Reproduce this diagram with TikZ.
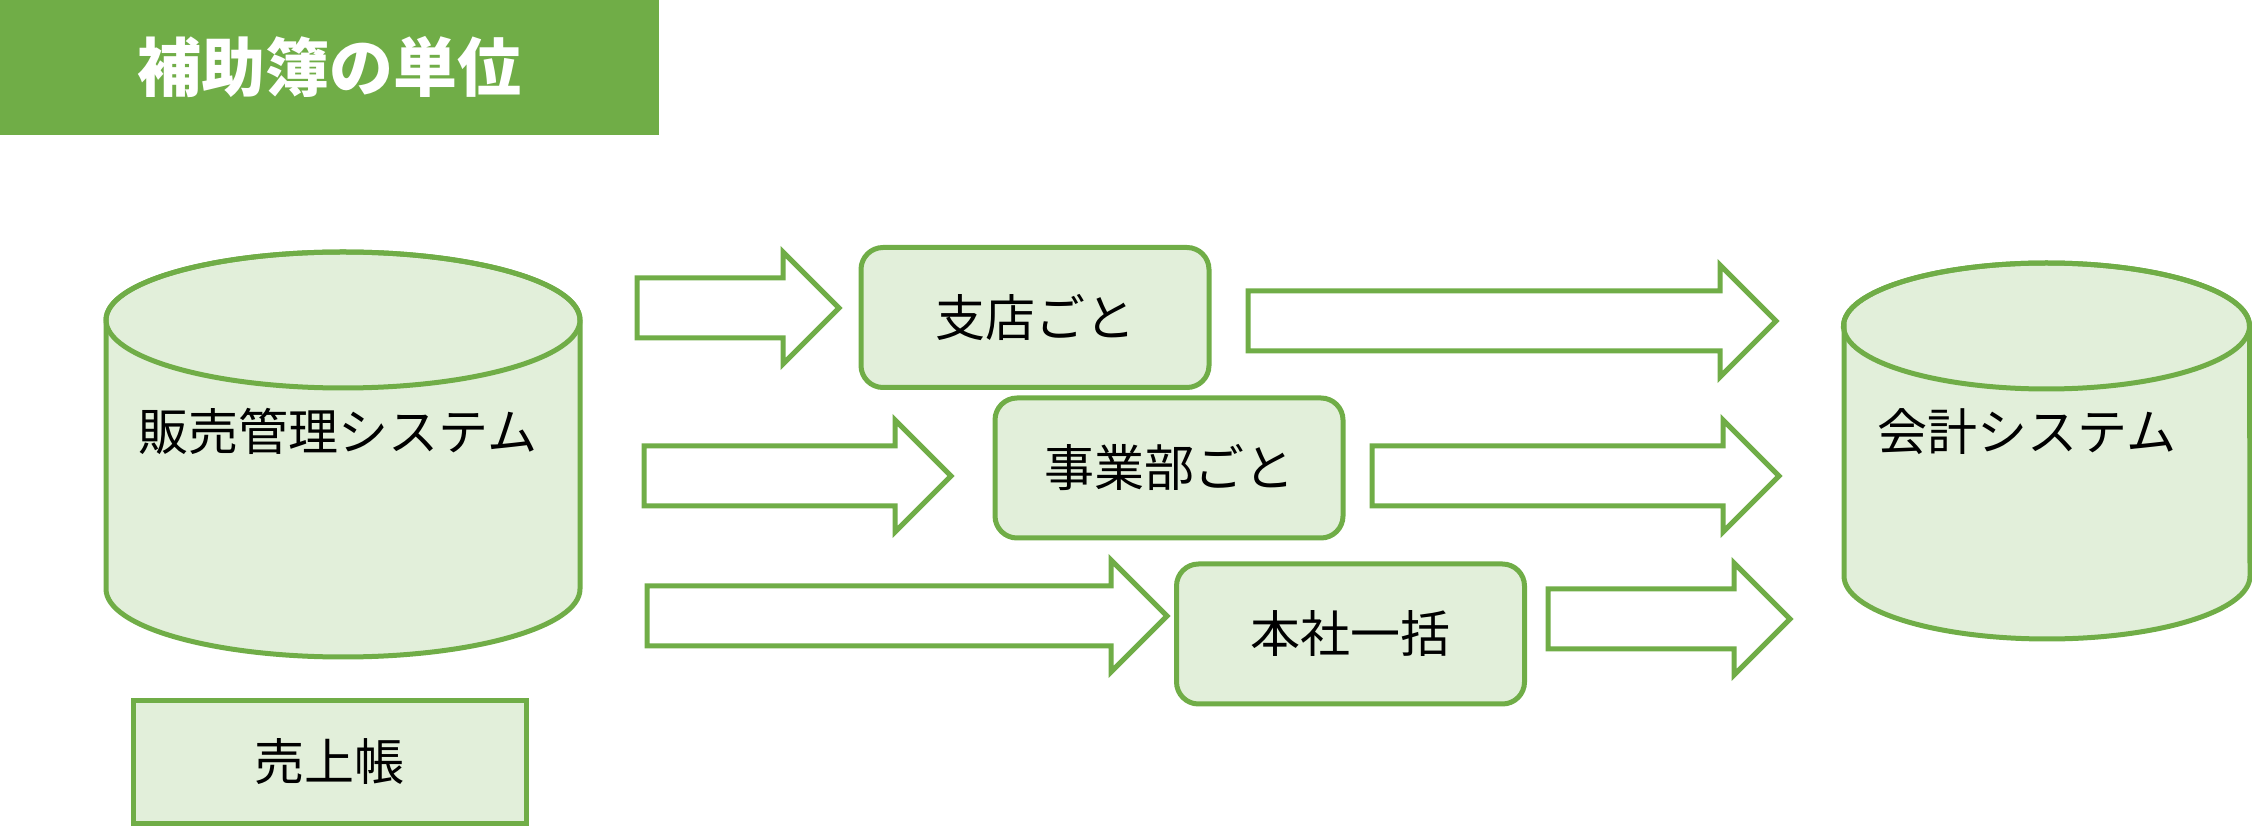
\documentclass[tikz,border=0pt]{standalone}
\usepackage{fontspec}
\setmainfont{Noto Sans CJK JP}
\usetikzlibrary{shapes.arrows}
\definecolor{grn}{HTML}{70AD47}
\definecolor{lightgrn}{HTML}{E2EFDA}

\begin{document}
\begin{tikzpicture}[x = 1pt, y = 1pt, line width = 5pt, % Subledger units tikzpic
        unitbox/.style = {draw = grn, fill = lightgrn, minimum width = 348pt, minimum height = 140pt, rounded corners = 22pt, font = \fontsize{50}{60}\selectfont},
        bigarrow/.style = {single arrow, draw = grn, fill = white, single arrow head extend = 26pt, single arrow head indent = 0pt, inner xsep = 0pt, inner ysep = 27.5pt, outer sep = 0pt, anchor = tail},
        systext/.style = {font = \fontsize{50}{60}\selectfont}]
        \useasboundingbox (0, 0) rectangle (2252, 825);

        % Title
        \node[fill = grn, minimum width = 659pt, minimum height = 135pt, text = white, font = \bfseries\fontsize{64}{72}\selectfont] (title) at (329.5, 757.5) {補助簿の単位};

        % Sales system (cylinder)
        \draw[grn, fill = lightgrn] (106, 505) -- (106, 236) arc[start angle = 180, end angle = 360, x radius = 237pt, y radius = 68pt] -- (580, 505) arc[start angle = 0, end angle = 180, x radius = 237pt, y radius = 68pt] -- cycle;
        \draw[grn] (343, 505) ellipse[x radius = 237pt, y radius = 68pt];
        \node[systext] (sales) at (338, 394) {販売管理システム};
        \node[draw = grn, fill = lightgrn, minimum width = 393pt, minimum height = 122pt, font = \fontsize{50}{60}\selectfont] (ledger) at (329.5, 63) {売上帳};

        % Accounting system (cylinder)
        \draw[grn, fill = lightgrn] (1844, 499) -- (1844, 249) arc[start angle = 180, end angle = 360, x radius = 203pt, y radius = 63pt] -- (2249.5, 499) arc[start angle = 0, end angle = 180, x radius = 203pt, y radius = 63pt] -- cycle;
        \draw[grn] (2046.5, 499) ellipse[x radius = 203pt, y radius = 63pt];
        \node[systext] (acct) at (2027, 393) {会計システム};

        % Units
        \node[unitbox] (branch) at (1035, 507.5) {支店ごと};
        \node[unitbox] (division) at (1169, 357) {事業部ごと};
        \node[unitbox] (head) at (1350.5, 191) {本社一括};

        % Arrows
        \node[bigarrow, minimum height = 202pt] (a1) at (637, 517) {};
        \node[bigarrow, minimum height = 307pt] (a2) at (644, 349) {};
        \node[bigarrow, minimum height = 520pt] (a3) at (647, 209) {};
        \node[bigarrow, minimum height = 528pt] (b1) at (1248, 504) {};
        \node[bigarrow, minimum height = 407pt] (b2) at (1372, 349) {};
        \node[bigarrow, minimum height = 242pt] (b3) at (1548, 206) {};
    \end{tikzpicture}
\end{document}
